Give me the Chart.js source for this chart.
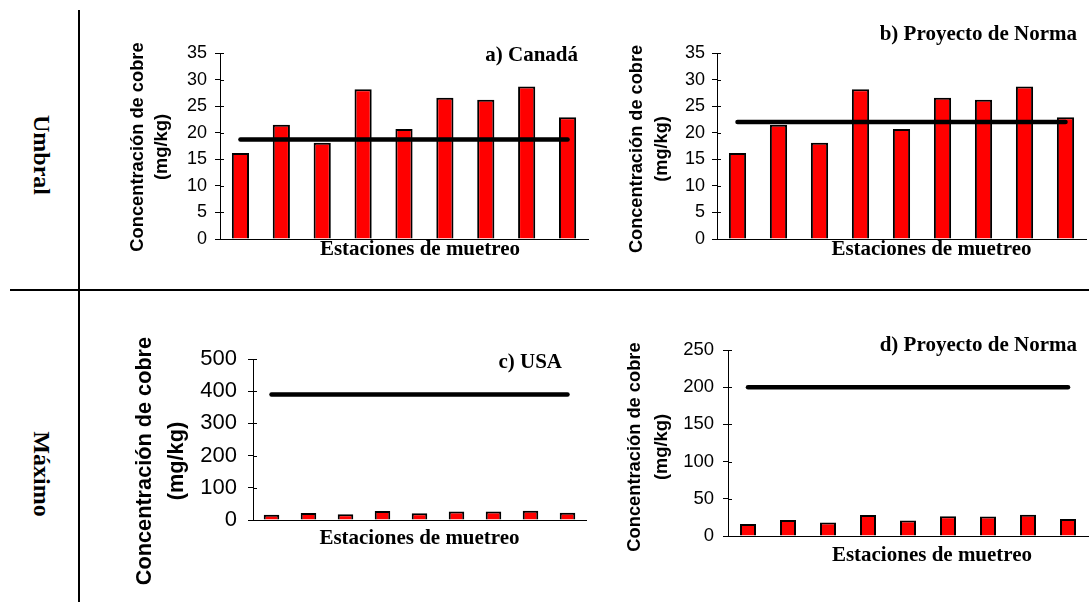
<!DOCTYPE html>
<html>
<head>
<meta charset="utf-8">
<script src="https://cdn.jsdelivr.net/npm/chart.js@4.4.1/dist/chart.umd.min.js"></script>
<style>
  body { margin: 0; background: #fff; width: 1089px; height: 602px; position: relative; overflow: hidden; }
  canvas { position: absolute; }
  .vline { position: absolute; left: 78px; top: 10px; width: 1.5px; height: 592px; background: #000; }
  .hline { position: absolute; left: 10px; top: 289px; width: 1079px; height: 1.5px; background: #000; }
  .row {
    position: absolute; writing-mode: vertical-rl; line-height: 1;
    font: bold 24px 'Times New Roman', 'Liberation Serif', serif; color: #000;
    transform: translate(-50%, -50%); white-space: nowrap;
  }
</style>
</head>
<body>
<div class="vline"></div>
<div class="hline"></div>
<div class="row" style="left:41px; top:155px;">Umbral</div>
<div class="row" style="left:41px; top:474px;">Máximo</div>

<script>
// data
const stations = ['E1', 'E2', 'E3', 'E4', 'E5', 'E6', 'E7', 'E8', 'E9'];
const copperValues = [16.2, 21.5, 18.1, 28.2, 20.7, 26.6, 26.2, 28.7, 22.9];

const limitCanada = 18.7;
const limitNormaUmbral = 22;
const limitUSA = 390;
const limitNormaMaximo = 200;

const ticksUmbral = [0, 5, 10, 15, 20, 25, 30, 35];
const ticksUSA = [0, 100, 200, 300, 400, 500];
const ticksNormaMaximo = [0, 50, 100, 150, 200, 250];

const yTitle = ['Concentración de cobre', '(mg/kg)'];
const xTitle = 'Estaciones de muetreo';

const SANS = "Arial, 'Liberation Sans', sans-serif";
const SERIF = "'Times New Roman', 'Liberation Serif', serif";

// corner label, axis titles and the inner half of the y tick marks
const panelText = {
  id: 'panelText',
  afterDraw(chart, args, o) {
    const ctx = chart.ctx;
    const a = chart.chartArea;
    const y = chart.scales.y;
    ctx.save();
    ctx.strokeStyle = '#000';
    ctx.lineWidth = 1;
    y.ticks.forEach(t => {
      const py = Math.round(y.getPixelForValue(t.value)) + 0.5;
      ctx.beginPath();
      ctx.moveTo(a.left, py);
      ctx.lineTo(a.left + 4, py);
      ctx.stroke();
    });

    ctx.fillStyle = '#000';
    ctx.font = 'bold 21px ' + SERIF;
    ctx.textBaseline = 'middle';
    ctx.textAlign = 'right';
    ctx.fillText(o.label, a.right + o.labelDx, a.top + o.labelDy);
    ctx.textAlign = 'center';
    ctx.fillText(xTitle, (a.left + a.right) / 2 + o.xDx, a.bottom + o.xDy);

    ctx.font = 'bold ' + o.yFont + 'px ' + SANS;
    ctx.translate(o.yX, o.yY);
    ctx.rotate(-Math.PI / 2);
    yTitle.forEach((line, i) => ctx.fillText(line, 0, i * o.yGap));
    ctx.restore();
  }
};

// page positions of each panel (box = left, top, width, height of the canvas)
const panels = [
  { label: 'a) Canadá', limit: limitCanada, ticks: ticksUmbral,
    box: [100, 20, 495, 250], pad: { top: 33, right: 7 }, yWidth: 120, xHeight: 31,
    tickSize: 18, tickPad: 8, barPct: 0.42,
    labelDx: -10, labelDy: 3, xDx: 16, xDy: 11,
    yFont: 18.3, yTitleX: 138, yTitleY: 147, yGap: 24 },
  { label: 'b) Proyecto de Norma', limit: limitNormaUmbral, ticks: ticksUmbral,
    box: [600, 15, 489, 255], pad: { top: 38, right: 3 }, yWidth: 117, xHeight: 31,
    tickSize: 18, tickPad: 7, barPct: 0.42,
    labelDx: -9, labelDy: -18, xDx: 30, xDy: 11,
    yFont: 18.2, yTitleX: 637, yTitleY: 149, yGap: 25 },
  { label: 'c) USA', limit: limitUSA, ticks: ticksUSA,
    box: [110, 310, 480, 285], pad: { top: 49, right: 4 }, yWidth: 143, xHeight: 75,
    tickSize: 22, tickPad: 11, barPct: 0.42,
    labelDx: -24, labelDy: 4, xDx: 0, xDy: 19,
    yFont: 21.7, yTitleX: 145, yTitleY: 461, yGap: 32 },
  { label: 'd) Proyecto de Norma', limit: limitNormaMaximo, ticks: ticksNormaMaximo,
    box: [600, 320, 489, 250], pad: { top: 30, right: 1 }, yWidth: 128, xHeight: 34,
    tickSize: 18.5, tickPad: 9, barPct: 0.4,
    labelDx: -11, labelDy: -4, xDx: 24, xDy: 20,
    yFont: 18.3, yTitleX: 635, yTitleY: 447, yGap: 27 }
];

panels.forEach(p => {
  const canvas = document.createElement('canvas');
  const [left, top, w, h] = p.box;
  canvas.width = w;
  canvas.height = h;
  canvas.style.left = left + 'px';
  canvas.style.top = top + 'px';
  canvas.style.width = w + 'px';
  canvas.style.height = h + 'px';
  document.body.appendChild(canvas);

  new Chart(canvas, {
    type: 'bar',
    data: {
      labels: stations,
      datasets: [
        {
          type: 'line',
          data: stations.map(() => p.limit),
          borderColor: '#000',
          borderWidth: 4.5,
          borderCapStyle: 'round',
          pointRadius: 0,
          fill: false,
          order: 0
        },
        {
          data: copperValues,
          backgroundColor: '#ff0000',
          borderColor: '#000',
          borderWidth: 2,
          categoryPercentage: 1,
          barPercentage: p.barPct,
          order: 1
        }
      ]
    },
    options: {
      responsive: false,
      animation: false,
      devicePixelRatio: 1,
      layout: { padding: { top: p.pad.top, right: p.pad.right, left: 0, bottom: 0 } },
      plugins: {
        legend: { display: false },
        tooltip: { enabled: false },
        panelText: {
          label: p.label, labelDx: p.labelDx, labelDy: p.labelDy, xDx: p.xDx, xDy: p.xDy,
          yFont: p.yFont, yX: p.yTitleX - left, yY: p.yTitleY - top, yGap: p.yGap
        }
      },
      scales: {
        x: {
          grid: { display: false },
          border: { display: true, color: '#000', width: 1 },
          ticks: { display: false },
          afterFit(scale) { scale.height = p.xHeight; }
        },
        y: {
          min: 0,
          max: p.ticks[p.ticks.length - 1],
          afterBuildTicks(scale) { scale.ticks = p.ticks.map(v => ({ value: v })); },
          afterFit(scale) { scale.width = p.yWidth; },
          grid: { drawOnChartArea: false, color: '#000', tickLength: 5, lineWidth: 1 },
          border: { display: true, color: '#000', width: 1 },
          ticks: { color: '#000', padding: p.tickPad, font: { family: SANS, size: p.tickSize } }
        }
      }
    },
    plugins: [panelText]
  });
});
</script>
</body>
</html>
